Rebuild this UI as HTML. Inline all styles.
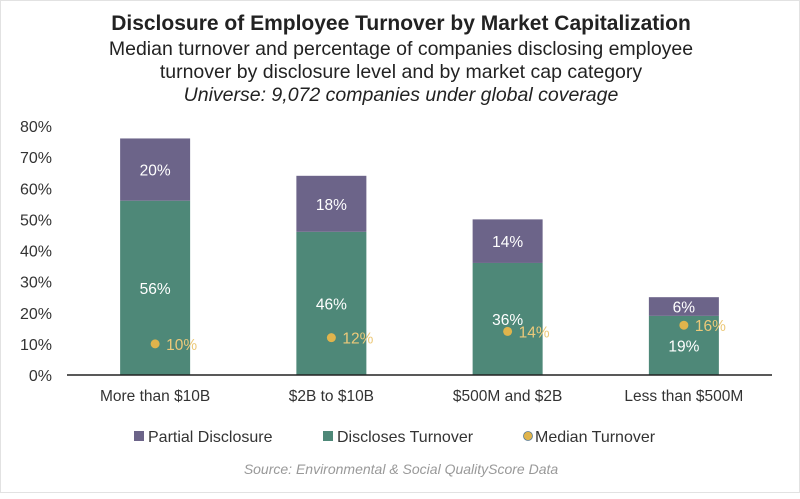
<!DOCTYPE html>
<html><head><meta charset="utf-8"><style>
html,body{margin:0;padding:0;background:#fff;}
body{width:800px;height:493px;overflow:hidden;font-family:"Liberation Sans",sans-serif;}
#wrap{position:absolute;left:0;top:0;width:798px;height:491px;border:1px solid #e2e2e2;}
</style></head><body>
<div id="wrap">
<svg id="chart" width="800" height="493">
<text x="400" y="29" text-anchor="middle" font-size="21" font-weight="bold" fill="#222">Disclosure of Employee Turnover by Market Capitalization</text>
<text x="400" y="54" text-anchor="middle" font-size="19.5" fill="#222">Median turnover and percentage of companies disclosing employee</text>
<text x="400" y="77" text-anchor="middle" font-size="19.5" fill="#222">turnover by disclosure level and by market cap category</text>
<text x="400" y="100" text-anchor="middle" font-size="19.5" font-style="italic" fill="#222">Universe: 9,072 companies under global coverage</text>
<g id="plot"></g>
<g>
<rect x="133" y="430" width="10" height="10" fill="#6c6489"/>
<text x="147" y="441" font-size="16" fill="#333">Partial Disclosure</text>
<rect x="322" y="430" width="10" height="10" fill="#4e8878"/>
<text x="336" y="441" font-size="16" fill="#333">Discloses Turnover</text>
<circle cx="527" cy="435" r="4.5" fill="#e0b44c" stroke="#5a7a90" stroke-width="0.8"/>
<text x="534" y="441" font-size="16" fill="#333">Median Turnover</text>
</g>
<text x="400" y="473" text-anchor="middle" font-size="14" font-style="italic" fill="#999">Source: Environmental &amp; Social QualityScore Data</text>
</svg>
</div>
<script>
const categories = ["More than $10B", "$2B to $10B", "$500M and $2B", "Less than $500M"];
const disclosesValues = [56, 46, 36, 19];
const partialValues = [20, 18, 14, 6];
const medianValues = [10, 12, 14, 16];
const yTicks = [0, 10, 20, 30, 40, 50, 60, 70, 80];

const NS = "http://www.w3.org/2000/svg";
const plot = document.getElementById("plot");
const x0 = 66, x1 = 771, yBase = 374, yTop = 125, yMax = 80;
const band = (x1 - x0) / categories.length, barW = 70;
function y(v){ return yBase - (v / yMax) * (yBase - yTop); }
function cx(i){ return x0 + band * (i + 0.5); }
function mk(tag, attrs, parent){ const e = document.createElementNS(NS, tag); for (const k in attrs) e.setAttribute(k, attrs[k]); (parent||plot).appendChild(e); return e; }

yTicks.forEach(t => {
  const e = mk("text", {x: 51, y: y(t) + 6, "text-anchor": "end", "font-size": 16, fill: "#333"});
  e.textContent = t + "%";
  
  
});

categories.forEach((c, i) => {
  const bx = cx(i) - barW / 2;
  const g = mk("rect", {x: bx, y: y(disclosesValues[i]), width: barW, height: yBase - y(disclosesValues[i]), fill: "#4e8878"});
  
  
  const tot = disclosesValues[i] + partialValues[i];
  const p = mk("rect", {x: bx, y: y(tot), width: barW, height: y(disclosesValues[i]) - y(tot), fill: "#6c6489"});
  
  
  const pl = mk("text", {x: cx(i), y: (y(tot) + y(disclosesValues[i])) / 2 + 6, "text-anchor": "middle", "font-size": 15.5, fill: "#fff"});
  pl.textContent = partialValues[i] + "%";
  
  
  const dl = mk("text", {x: cx(i), y: (y(disclosesValues[i]) + yBase) / 2 + 6, "text-anchor": "middle", "font-size": 15.5, fill: "#fff"});
  dl.textContent = disclosesValues[i] + "%";
  
  
  const d = mk("circle", {cx: cx(i), cy: y(medianValues[i]), r: 4.5, fill: "#e0b44c"});
  
  
  const ml = mk("text", {x: cx(i) + 11, y: y(medianValues[i]) + 6, "font-size": 15.5, fill: "#ecc97a"});
  ml.textContent = medianValues[i] + "%";
  
  
  const cl = mk("text", {x: cx(i), y: 400, "text-anchor": "middle", "font-size": 15.5, fill: "#333"});
  cl.textContent = c;
  
  
});
const ax = mk("line", {x1: x0, x2: x1, y1: yBase, y2: yBase, stroke: "#222", "stroke-width": 1.5});


</script>
</body></html>
